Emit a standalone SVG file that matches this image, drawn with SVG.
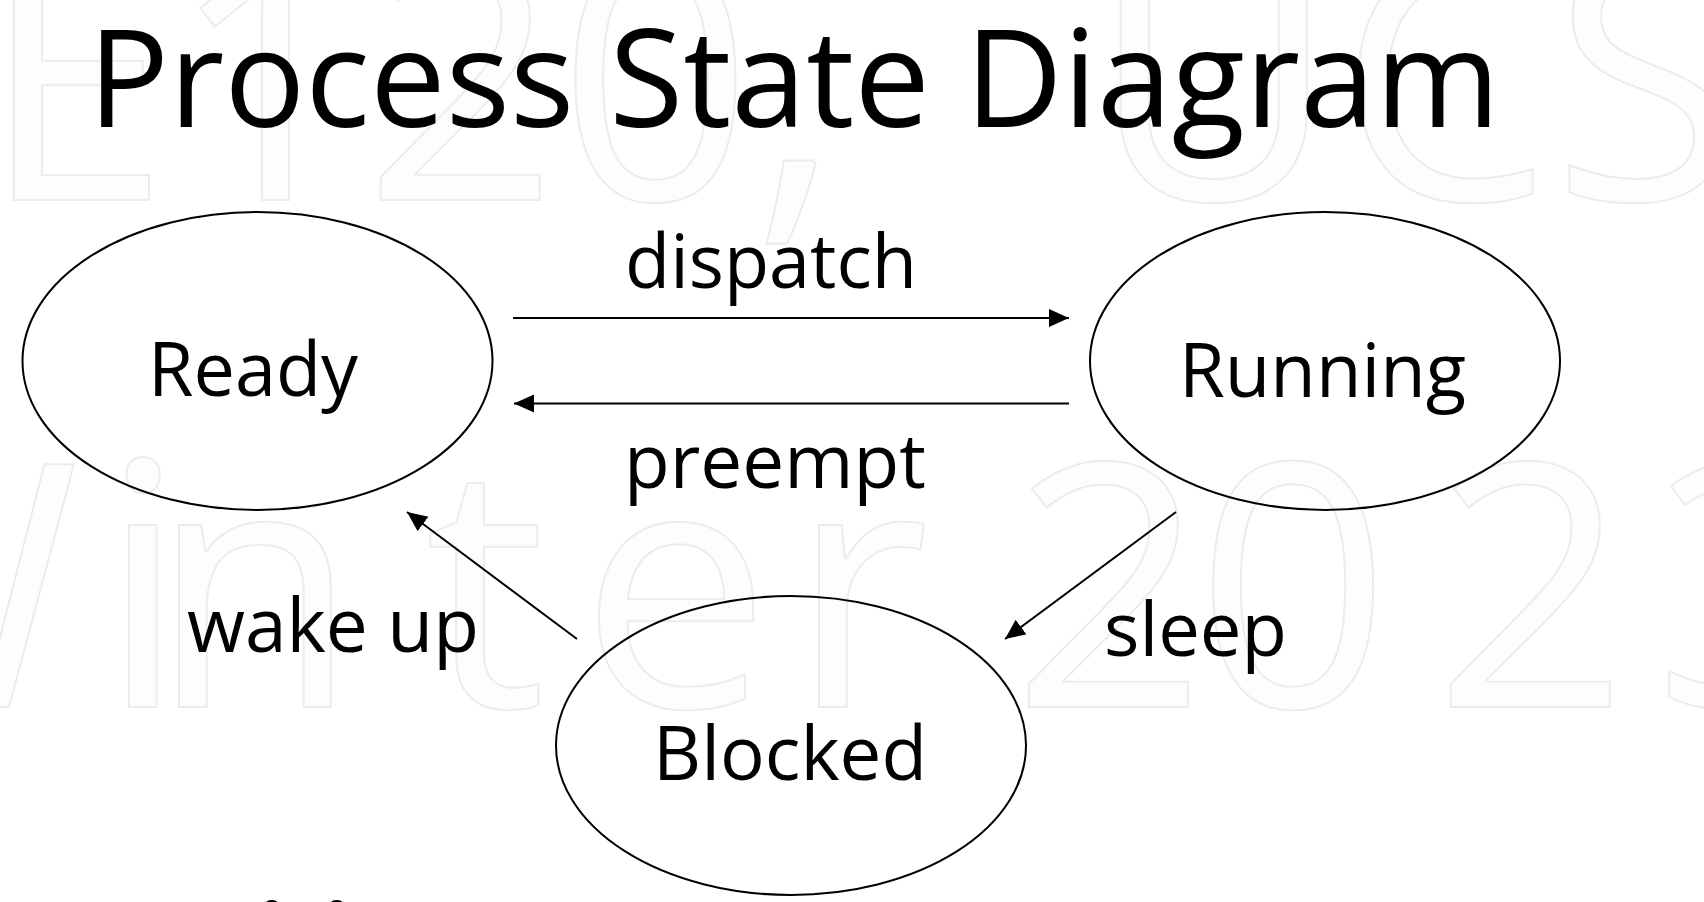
<svg xmlns="http://www.w3.org/2000/svg" width="1704" height="902" viewBox="0 0 1704 902">
<style>
.t{font-family:"Open Sans","Liberation Sans",sans-serif;fill:#000}
.lbl{font-size:75px}
.node{fill:none;stroke:#000;stroke-width:2}
.edge{stroke:#000;stroke-width:2;fill:none;marker-end:url(#ah)}
.wm{font-family:"Open Sans","Liberation Sans",sans-serif;font-size:340px;fill:#fdfdfd;stroke:#ececec;stroke-width:2}
</style>
<defs>
<marker id="ah" markerUnits="userSpaceOnUse" markerWidth="22" markerHeight="20" refX="20" refY="9" orient="auto">
<path d="M0,0 L20,9 L0,18 z" fill="#000"/>
</marker>
</defs>
<rect width="1704" height="902" fill="#fff"/>
<g id="watermark">
<text class="wm" x="-420" y="200">CSE120,</text>
<text class="wm" x="1090" y="200">UCSD</text>
<text class="wm" x="-235 100 150 425 580 790" y="707">Winter</text>
<text class="wm" x="1012 1196 1434 1654" y="707">2023</text>
</g>
<text id="title" class="t" x="88" y="127" font-size="136" textLength="1412" lengthAdjust="spacingAndGlyphs">Process State Diagram</text>
<g id="connectors">
<line class="edge" x1="513" y1="318" x2="1069" y2="318"/>
<line class="edge" x1="1069" y1="403.5" x2="514" y2="403.5"/>
<line class="edge" x1="577" y1="639" x2="407" y2="512"/>
<line class="edge" x1="1176" y1="512" x2="1005" y2="639"/>
<text class="t lbl" x="625" y="288" textLength="292" lengthAdjust="spacingAndGlyphs">dispatch</text>
<text class="t lbl" x="624" y="488" textLength="302" lengthAdjust="spacingAndGlyphs">preempt</text>
<text class="t lbl" x="187" y="652" textLength="292" lengthAdjust="spacingAndGlyphs">wake up</text>
<text class="t lbl" x="1104" y="656" textLength="183" lengthAdjust="spacingAndGlyphs">sleep</text>
</g>
<g id="ready">
<ellipse class="node" cx="257.5" cy="361" rx="235" ry="149"/>
<text class="t lbl" x="148" y="396" textLength="210" lengthAdjust="spacingAndGlyphs">Ready</text>
</g>
<g id="running">
<ellipse class="node" cx="1325" cy="361" rx="235" ry="149"/>
<text class="t lbl" x="1179" y="397" textLength="287" lengthAdjust="spacingAndGlyphs">Running</text>
</g>
<g id="blocked">
<ellipse class="node" cx="791" cy="745.5" rx="235" ry="149.5"/>
<text class="t lbl" x="653" y="780" textLength="274" lengthAdjust="spacingAndGlyphs">Blocked</text>
</g>
<text id="next-line" class="t" x="23 61 100 155 214 258 285 323 350 409 468" y="968" font-size="90" font-weight="700">transitions</text>
</svg>
